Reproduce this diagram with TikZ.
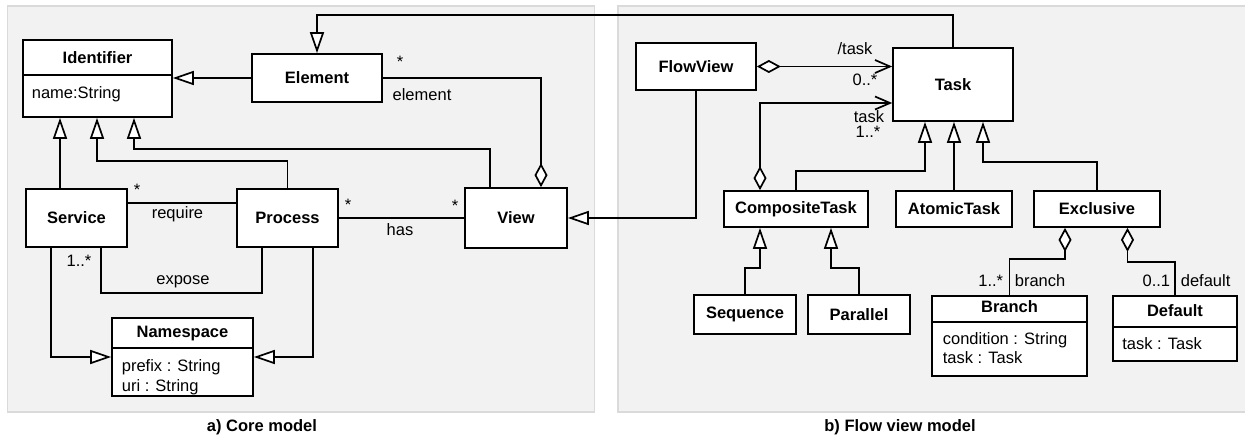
\documentclass[tikz,border=0pt]{standalone}
\usepackage{fontspec}
\setmainfont{Liberation Sans}
\usetikzlibrary{arrows.meta}
\definecolor{panelfill}{HTML}{F2F2F2}
\definecolor{panelline}{HTML}{DADADA}
\begin{document}
\begin{tikzpicture}[x=1pt,y=-1pt,line width=1.7pt,
  txt/.style={font=\fontsize{16.5}{19.8}\selectfont, inner sep=0pt, text height=11.8pt, text depth=3.4pt},
  cls/.style={draw, fill=white, inner sep=0pt, font=\fontsize{16.5}{19.8}\selectfont\bfseries},
  ttl/.style={txt, font=\fontsize{16.5}{19.8}\selectfont\bfseries},
  attr/.style={txt, anchor=west},
  lbl/.style={txt},
  star/.style={font=\fontsize{16.5}{19.8}\selectfont, inner sep=0pt},
  captiontext/.style={txt, font=\fontsize{16.5}{19.8}\selectfont\bfseries},
  gen/.style={-{Triangle[length=21pt,width=14pt,fill=white]}},
  aggS/.style={{Diamond[length=24pt,width=13pt,fill=white]}-},
  aggE/.style={-{Diamond[length=24pt,width=13pt,fill=white]}},
  aggnav/.style={{Diamond[length=24pt,width=13pt,fill=white]}-{Straight Barb[length=15pt,width=13pt]}}]
\useasboundingbox (0,0) rectangle (1245,436);

% panels
\fill[panelfill] (7.7,6) rectangle (594.7,412);
\draw[panelline,line width=1.2pt] (7.7,6) rectangle (594.7,412);
\fill[panelfill] (618,6) rectangle (1260,412);
\draw[panelline,line width=1.2pt] (1260,6) -- (618,6) -- (618,412) -- (1260,412);

% ---------- core model ----------
\node[cls, minimum width=149pt, minimum height=77pt] (Identifier) at (97.5,78.5) {};
\node[ttl] (IdentifierT) at (97.5,59) {Identifier};
\draw[line width=1.5pt] (Identifier.west |- 0,75) -- (Identifier.east |- 0,75);
\node[attr] (IdentifierA) at (31,94) {name:String};

\node[cls, minimum width=130pt, minimum height=48pt] (Element) at (317,78) {Element};
\node[cls, minimum width=102pt, minimum height=60pt] (View) at (516,218) {View};
\node[cls, minimum width=101pt, minimum height=58pt] (Service) at (76.5,218) {Service};
\node[cls, minimum width=101pt, minimum height=58pt] (Process) at (287.5,218) {Process};

\node[cls, minimum width=141pt, minimum height=78pt] (Namespace) at (182.5,357) {};
\node[ttl] (NamespaceT) at (182.5,333) {Namespace};
\draw[line width=1.5pt] (Namespace.west |- 0,348) -- (Namespace.east |- 0,348);
\node[attr] (NamespaceA1) at (121,367) {prefix : String};
\node[attr] (NamespaceA2) at (121,387) {uri : String};

% ---------- flow view model ----------
\node[cls, minimum width=120pt, minimum height=47pt] (FlowView) at (696,66.5) {FlowView};
\node[cls, minimum width=120pt, minimum height=73pt] (Task) at (953,84.5) {Task};
\node[cls, minimum width=144pt, minimum height=36pt] (CompositeTask) at (796,209) {CompositeTask};
\node[cls, minimum width=116pt, minimum height=36pt] (AtomicTask) at (954,209) {AtomicTask};
\node[cls, minimum width=126pt, minimum height=36pt] (Exclusive) at (1097,209) {Exclusive};
\node[cls, minimum width=102pt, minimum height=39pt] (Sequence) at (745,314.5) {Sequence};
\node[cls, minimum width=102pt, minimum height=39pt] (Parallel) at (859,314.5) {Parallel};

\node[cls, minimum width=155pt, minimum height=80pt] (Branch) at (1009.5,336) {};
\node[ttl] (BranchT) at (1009.5,308) {Branch};
\draw[line width=1.5pt] (Branch.west |- 0,322) -- (Branch.east |- 0,322);
\node[attr] (BranchA1) at (942,340) {condition : String};
\node[attr] (BranchA2) at (942,359) {task : Task};

\node[cls, minimum width=124pt, minimum height=65pt] (Default) at (1175,328.5) {};
\node[ttl] (DefaultT) at (1175,312) {Default};
\draw[line width=1.5pt] (Default.west |- 0,327) -- (Default.east |- 0,327);
\node[attr] (DefaultA) at (1121.5,345) {task : Task};

% ---------- connectors: core model ----------
\draw[gen] (Element.west) -- (Element.west -| Identifier.east);
\draw[gen] (Task.north) -- ++(0,-32) -| (Element.north);
\draw[aggE] (Element.east) -| (View.north -| 541,0);
\draw[gen] (Service.north -| 60,0) -- (Identifier.south -| 60,0);
\draw[gen] (Process.north) |- (97,161) -- (Identifier.south -| 97,0);
\draw[gen] (View.north -| 490,0) |- (134,149) -- (Identifier.south -| 134,0);
\draw (Service.east |- 0,203) -- (Process.west |- 0,203);
\draw (Process.east) -- (View.west);
\draw (Service.south -| 101,0) |- (262,293) -- (Process.south -| 262,0);
\draw[gen] (Service.south -| 51,0) |- (Namespace.west);
\draw[gen] (Process.south -| 313,0) |- (Namespace.east);

\node[star] (sElem) at (400,62) {*};
\node[lbl] (lElem) at (422,96) {element};
\node[star] (sReq) at (137,190) {*};
\node[lbl] (lReq) at (177.5,214) {require};
\node[star] (sHasP) at (348,205) {*};
\node[star] (sHasV) at (455,206) {*};
\node[lbl] (lHas) at (400,231) {has};
\node[lbl] (lExpM) at (79,262) {1..*};
\node[lbl] (lExp) at (183,280) {expose};

% ---------- connectors: flow view model ----------
\draw[gen] (FlowView.south) |- (View.east);
\draw[aggnav] (FlowView.east) -- (Task.west |- FlowView.east);
\draw[aggnav] (CompositeTask.north -| 760,0) |- (Task.west |- 0,103);
\draw[gen] (CompositeTask.north) |- (925,171) -- (Task.south -| 925,0);
\draw[gen] (AtomicTask.north) -- (Task.south -| AtomicTask.north);
\draw[gen] (Exclusive.north) |- (983,162) -- (Task.south -| 983,0);
\draw[gen] (Sequence.north) |- (760,268) -- (CompositeTask.south -| 760,0);
\draw[gen] (Parallel.north) |- (831,268) -- (CompositeTask.south -| 831,0);
\draw[aggS] (Exclusive.south -| 1065,0) -- (1065,259) -| (Branch.north);
\draw[aggS] (Exclusive.south -| 1127.5,0) -- (1127.5,262) -| (Default.north);

\node[lbl] (lTask1) at (855,50) {/task};
\node[lbl] (lTask1M) at (865,81) {0..*};
\node[lbl] (lTask2) at (869,118) {task};
\node[lbl] (lTask2M) at (868,133) {1..*};
\node[lbl, anchor=east] (lBrM) at (1004,282) {1..*};
\node[lbl, anchor=west] (lBr) at (1014,282) {branch};
\node[lbl, anchor=east] (lDefM) at (1171,282) {0..1};
\node[lbl, anchor=west] (lDef) at (1180,282) {default};

% captions
\node[captiontext] (capA) at (262,427) {a) Core model};
\node[captiontext] (capB) at (900,427) {b) Flow view model};
\end{tikzpicture}
\end{document}
